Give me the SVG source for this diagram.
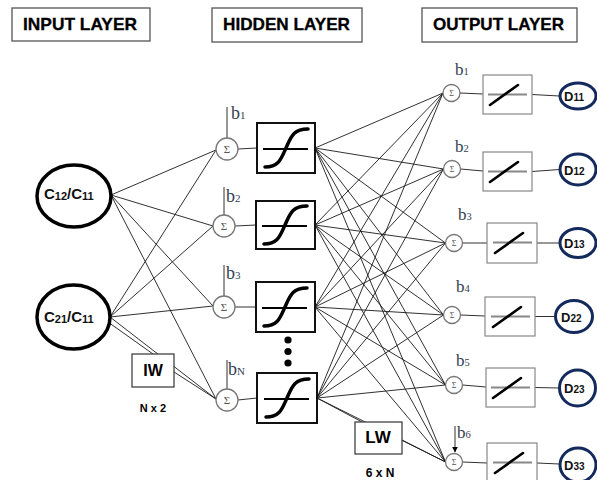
<svg xmlns="http://www.w3.org/2000/svg" xmlns:xlink="http://www.w3.org/1999/xlink" width="597" height="480" viewBox="0 0 597 480">
<style>
.hdr{fill:none;stroke:#555;stroke-width:1.3}
.htxt{font-family:"Liberation Sans",Arial,sans-serif;font-weight:bold;font-size:17px;fill:#000;stroke:#000;stroke-width:0.3}
.in{fill:#fff;stroke:#000;stroke-width:3.5}
.intxt{font-family:"Liberation Sans",Arial,sans-serif;font-weight:bold;font-size:15px;fill:#111}
.sub{font-size:11px}
.sum{fill:#fff;stroke:#777;stroke-width:1.3}
.sumtxt{font-family:"Liberation Serif","Times New Roman",serif;fill:#555;text-anchor:middle}
.hbox{fill:#fff;stroke:#111;stroke-width:2}
.obox{fill:#fff;stroke:#888;stroke-width:1.2}
.bias{font-family:"Liberation Serif","Times New Roman",serif;fill:#34404f}
.bline{stroke:#000;stroke-width:1.3}
.out{fill:#fff;stroke:#142a5c;stroke-width:3}
.outtxt{font-family:"Liberation Sans",Arial,sans-serif;font-weight:bold;font-size:13px;fill:#111}
.osub{font-size:10px}
.wbox{fill:#fff;stroke:#333;stroke-width:1.2}
.wtxt{font-family:"Liberation Sans",Arial,sans-serif;font-weight:bold;fill:#000;text-anchor:middle}
#conn line{stroke:#1a1a1a;stroke-width:0.9}
</style>
<defs>
<g id="sig">
<line x1="6" y1="26" x2="51" y2="26" stroke="#000" stroke-width="2"/>
<path d="M8,44 C22,44 24,36 29,25 S36,6 51,6" fill="none" stroke="#000" stroke-width="3.5" stroke-linecap="round"/>
</g>
<g id="lin">
<line x1="5" y1="19.5" x2="44" y2="19.5" stroke="#888" stroke-width="2"/>
<line x1="7" y1="30" x2="35" y2="10" stroke="#000" stroke-width="2.6" stroke-linecap="round"/>
</g>
<marker id="arr" viewBox="0 0 10 10" refX="9" refY="5" markerWidth="6" markerHeight="6" orient="auto" markerUnits="userSpaceOnUse">
<path d="M0,0 L10,5 L0,10 z" fill="#000"/>
</marker>
</defs>
<rect width="597" height="480" fill="#fff"/>

<g id="headers">
<g id="hdr-input"><rect class="hdr" x="12" y="8" width="138" height="33"/><text class="htxt" x="23" y="30" textLength="114" lengthAdjust="spacingAndGlyphs">INPUT LAYER</text></g>
<g id="hdr-hidden"><rect class="hdr" x="212" y="8" width="150" height="34"/><text class="htxt" x="223" y="30" textLength="127" lengthAdjust="spacingAndGlyphs">HIDDEN LAYER</text></g>
<g id="hdr-output"><rect class="hdr" x="422" y="8" width="155" height="34"/><text class="htxt" x="433" y="30" textLength="131" lengthAdjust="spacingAndGlyphs">OUTPUT LAYER</text></g>
</g>

<g id="conn">
<line x1="111" y1="195" x2="216" y2="150"/>
<line x1="111" y1="195" x2="213" y2="226"/>
<line x1="111" y1="195" x2="213" y2="306"/>
<line x1="111" y1="195" x2="216" y2="399"/>
<line x1="110" y1="317" x2="216" y2="150"/>
<line x1="110" y1="317" x2="213" y2="226"/>
<line x1="110" y1="317" x2="213" y2="306"/>
<line x1="110" y1="317" x2="216" y2="399"/>
<line x1="108" y1="322" x2="153" y2="354"/>
<line x1="174" y1="372" x2="216" y2="399"/>
<line x1="238" y1="149" x2="257" y2="148"/>
<line x1="235" y1="226" x2="256" y2="225"/>
<line x1="235" y1="307" x2="256" y2="307"/>
<line x1="238" y1="400" x2="257" y2="398"/>
<line x1="315" y1="148" x2="443" y2="93"/>
<line x1="315" y1="148" x2="443.5" y2="169"/>
<line x1="315" y1="148" x2="445.5" y2="243"/>
<line x1="315" y1="148" x2="443.5" y2="315"/>
<line x1="315" y1="148" x2="445.5" y2="385"/>
<line x1="315" y1="148" x2="445.5" y2="462"/>
<line x1="315" y1="225" x2="443" y2="93"/>
<line x1="315" y1="225" x2="443.5" y2="169"/>
<line x1="315" y1="225" x2="445.5" y2="243"/>
<line x1="315" y1="225" x2="443.5" y2="315"/>
<line x1="315" y1="225" x2="445.5" y2="385"/>
<line x1="315" y1="225" x2="445.5" y2="462"/>
<line x1="315" y1="307" x2="443" y2="93"/>
<line x1="315" y1="307" x2="443.5" y2="169"/>
<line x1="315" y1="307" x2="445.5" y2="243"/>
<line x1="315" y1="307" x2="443.5" y2="315"/>
<line x1="315" y1="307" x2="445.5" y2="385"/>
<line x1="315" y1="307" x2="445.5" y2="462"/>
<line x1="317" y1="398" x2="443" y2="93"/>
<line x1="317" y1="398" x2="443.5" y2="169"/>
<line x1="317" y1="398" x2="445.5" y2="243"/>
<line x1="317" y1="398" x2="443.5" y2="315"/>
<line x1="317" y1="398" x2="445.5" y2="385"/>
<line x1="317" y1="398" x2="445.5" y2="462"/>
<line x1="317" y1="398" x2="362" y2="422"/>
<line x1="402" y1="440" x2="445.5" y2="462"/>
<line x1="460" y1="93" x2="483" y2="94"/>
<line x1="460.5" y1="169" x2="483" y2="171"/>
<line x1="462.5" y1="243" x2="487" y2="243"/>
<line x1="460.5" y1="315" x2="485" y2="316"/>
<line x1="462.5" y1="385" x2="486" y2="387"/>
<line x1="462.5" y1="462" x2="487" y2="463"/>
<line x1="532" y1="94.5" x2="559.5" y2="96"/>
<line x1="532" y1="171.5" x2="559.5" y2="169.5"/>
<line x1="537" y1="243" x2="559.5" y2="243"/>
<line x1="535" y1="316.5" x2="555" y2="316.5"/>
<line x1="535" y1="387.5" x2="559" y2="388"/>
<line x1="537" y1="463" x2="559.5" y2="464"/>
<line class="bline" x1="227" y1="107" x2="227" y2="138"/>
<line class="bline" x1="224" y1="187" x2="224" y2="215"/>
<line class="bline" x1="224" y1="265" x2="224" y2="296"/>
<line class="bline" x1="227" y1="360" x2="227" y2="389"/>
<line x1="455" y1="426" x2="455" y2="452" marker-end="url(#arr)"/>
</g>

<g id="in1"><ellipse class="in" cx="74" cy="196" rx="37" ry="31"/><text class="intxt" x="44" y="199">C<tspan class="sub" dy="1">12</tspan><tspan dy="-1">/C</tspan><tspan class="sub" dy="1">11</tspan></text></g>
<g id="in2"><ellipse class="in" cx="73.5" cy="317" rx="36.5" ry="32"/><text class="intxt" x="44" y="322">C<tspan class="sub" dy="1">21</tspan><tspan dy="-1">/C</tspan><tspan class="sub" dy="1">11</tspan></text></g>

<g id="iw"><rect class="wbox" x="132" y="354" width="42" height="33"/><text class="wtxt" x="153" y="376" font-size="16">IW</text><text class="wtxt" x="153" y="412" font-size="11">N x 2</text></g>

<g id="hs1"><circle class="sum" cx="227" cy="149" r="11"/><text class="sumtxt" x="227" y="153" font-size="11">Σ</text><text class="bias" x="231" y="119" font-size="18">b<tspan font-size="11">1</tspan></text></g>
<g id="hs2"><circle class="sum" cx="224" cy="226" r="11"/><text class="sumtxt" x="224" y="230" font-size="11">Σ</text><text class="bias" x="226" y="202" font-size="18">b<tspan font-size="11">2</tspan></text></g>
<g id="hs3"><circle class="sum" cx="224" cy="307" r="11"/><text class="sumtxt" x="224" y="311" font-size="11">Σ</text><text class="bias" x="226" y="279" font-size="18">b<tspan font-size="11">3</tspan></text></g>
<g id="hsN"><circle class="sum" cx="227" cy="400" r="11"/><text class="sumtxt" x="227" y="404" font-size="11">Σ</text><text class="bias" x="228" y="375" font-size="18">b<tspan font-size="11">N</tspan></text></g>

<g id="h1"><rect class="hbox" x="257" y="123" width="58" height="50"/><use xlink:href="#sig" x="257" y="123"/></g>
<g id="h2"><rect class="hbox" x="256" y="201" width="59" height="48"/><use xlink:href="#sig" x="256" y="200"/></g>
<g id="h3"><rect class="hbox" x="256" y="282" width="59" height="50"/><use xlink:href="#sig" x="256" y="282"/></g>
<g id="h4"><rect class="hbox" x="257" y="373" width="60" height="50"/><use xlink:href="#sig" x="258" y="373"/></g>
<g id="dots"><circle cx="288" cy="340" r="3.6"/><circle cx="288" cy="351.5" r="3.6"/><circle cx="288" cy="363" r="3.6"/></g>

<g id="lw"><rect class="wbox" x="355" y="422" width="47" height="32"/><text class="wtxt" x="378" y="443" font-size="17">LW</text><text class="wtxt" x="380" y="477" font-size="12">6 x N</text></g>

<g id="os1"><circle class="sum" cx="451.5" cy="93" r="8.5"/><text class="sumtxt" x="451.5" y="96" font-size="8">Σ</text><text class="bias" x="455" y="75" font-size="17">b<tspan font-size="10.5">1</tspan></text></g>
<g id="os2"><circle class="sum" cx="452" cy="169" r="8.5"/><text class="sumtxt" x="452" y="172" font-size="8">Σ</text><text class="bias" x="455" y="152" font-size="17">b<tspan font-size="10.5">2</tspan></text></g>
<g id="os3"><circle class="sum" cx="454" cy="243" r="8.5"/><text class="sumtxt" x="454" y="246" font-size="8">Σ</text><text class="bias" x="458" y="220" font-size="17">b<tspan font-size="10.5">3</tspan></text></g>
<g id="os4"><circle class="sum" cx="452" cy="315" r="8.5"/><text class="sumtxt" x="452" y="318" font-size="8">Σ</text><text class="bias" x="456" y="292" font-size="17">b<tspan font-size="10.5">4</tspan></text></g>
<g id="os5"><circle class="sum" cx="454" cy="385" r="8.5"/><text class="sumtxt" x="454" y="388" font-size="8">Σ</text><text class="bias" x="456" y="366" font-size="17">b<tspan font-size="10.5">5</tspan></text></g>
<g id="os6"><circle class="sum" cx="454" cy="462" r="8.5"/><text class="sumtxt" x="454" y="465" font-size="8">Σ</text><text class="bias" x="457" y="438" font-size="17">b<tspan font-size="10.5">6</tspan></text></g>

<g id="ob1"><rect class="obox" x="483" y="75" width="49" height="39"/><use xlink:href="#lin" x="483" y="75"/></g>
<g id="ob2"><rect class="obox" x="483" y="152" width="49" height="39"/><use xlink:href="#lin" x="483" y="152"/></g>
<g id="ob3"><rect class="obox" x="487" y="223" width="50" height="40"/><use xlink:href="#lin" x="488" y="223"/></g>
<g id="ob4"><rect class="obox" x="485" y="297" width="50" height="39"/><use xlink:href="#lin" x="486" y="297"/></g>
<g id="ob5"><rect class="obox" x="486" y="368" width="49" height="39"/><use xlink:href="#lin" x="486" y="368"/></g>
<g id="ob6"><rect class="obox" x="487" y="443" width="50" height="40"/><use xlink:href="#lin" x="488" y="443"/></g>

<g id="d11"><ellipse class="out" cx="578" cy="96" rx="18" ry="13"/><text class="outtxt" x="564" y="101">D<tspan class="osub">11</tspan></text></g>
<g id="d12"><ellipse class="out" cx="578" cy="169.5" rx="18" ry="15.5"/><text class="outtxt" x="564" y="174.5">D<tspan class="osub">12</tspan></text></g>
<g id="d13"><ellipse class="out" cx="578" cy="243" rx="18" ry="14.5"/><text class="outtxt" x="564" y="248">D<tspan class="osub">13</tspan></text></g>
<g id="d22"><ellipse class="out" cx="574" cy="316.5" rx="18.5" ry="16"/><text class="outtxt" x="561" y="322">D<tspan class="osub">22</tspan></text></g>
<g id="d23"><ellipse class="out" cx="577.5" cy="388" rx="18" ry="18"/><text class="outtxt" x="564" y="393">D<tspan class="osub">23</tspan></text></g>
<g id="d33"><ellipse class="out" cx="578" cy="465" rx="18" ry="17"/><text class="outtxt" x="564" y="470">D<tspan class="osub">33</tspan></text></g>
</svg>
